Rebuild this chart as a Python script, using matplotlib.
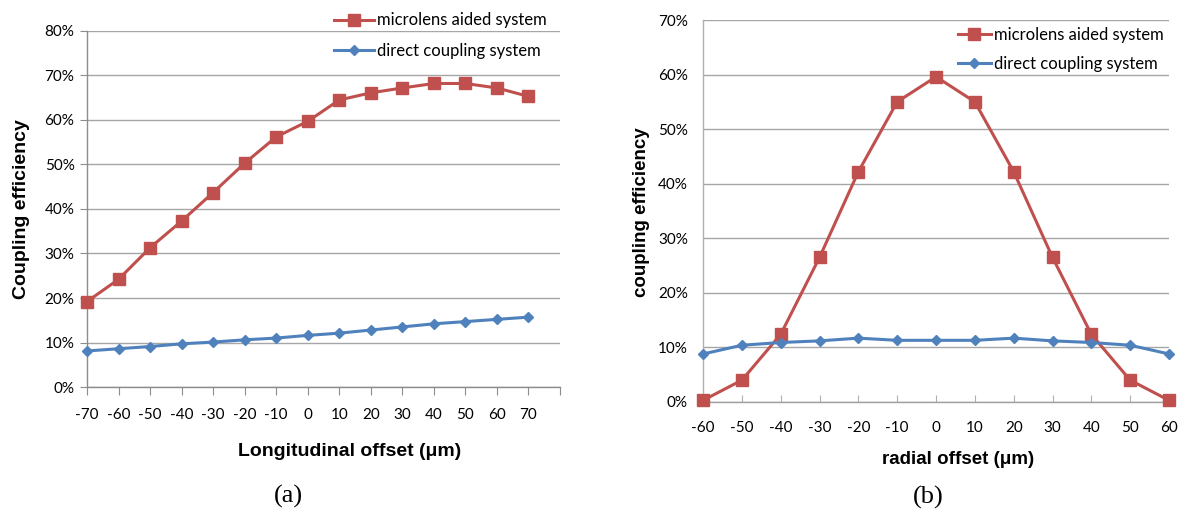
import matplotlib
matplotlib.use("Agg")
import matplotlib.pyplot as plt
from matplotlib.ticker import FuncFormatter

# longitudinal scan (a)
long_offset = [-70, -60, -50, -40, -30, -20, -10, 0, 10, 20, 30, 40, 50, 60, 70]
long_microlens = [19.2, 24.2, 31.3, 37.3, 43.7, 50.3, 56.2, 59.7, 64.5, 66.1, 67.2, 68.2, 68.2, 67.2, 65.3]
long_direct = [8.1, 8.6, 9.1, 9.7, 10.1, 10.6, 11.0, 11.6, 12.1, 12.8, 13.5, 14.2, 14.7, 15.2, 15.7]

# radial scan (b)
rad_offset = [-60, -50, -40, -30, -20, -10, 0, 10, 20, 30, 40, 50, 60]
rad_microlens = [0.3, 4.0, 12.4, 26.5, 42.2, 55.0, 59.6, 55.0, 42.2, 26.5, 12.4, 4.0, 0.3]
rad_direct = [8.8, 10.4, 10.9, 11.2, 11.7, 11.3, 11.3, 11.3, 11.7, 11.2, 10.9, 10.4, 8.8]

RED = "#C0504D"
BLUE = "#4F81BD"
GRID = "#A6A6A6"
TICK_FONT = ["Lato", "DejaVu Sans"]

plt.rcParams["axes.unicode_minus"] = False

pct = FuncFormatter(lambda v, pos: f"{v:.0f}%")

fig = plt.figure(figsize=(11.82, 5.13), dpi=100)
ax1 = fig.add_axes([0.0736, 0.2456, 0.4002, 0.694])
ax2 = fig.add_axes([0.5948, 0.2164, 0.3942, 0.7446])


def style_axes(ax, ymax):
    ax.set_ylim(0, ymax)
    ax.set_yticks(range(0, ymax + 1, 10))
    ax.yaxis.set_major_formatter(pct)
    ax.grid(axis="y", color=GRID, linewidth=1.0)
    ax.set_axisbelow(True)
    for side in ("top", "right"):
        ax.spines[side].set_visible(False)
    for side in ("left", "bottom"):
        ax.spines[side].set_color("#8C8C8C")
        ax.spines[side].set_linewidth(1.0)
    for lab in ax.get_xticklabels() + ax.get_yticklabels():
        lab.set_family(TICK_FONT)
        lab.set_fontsize(11)


def draw_series(ax, x, red, blue):
    ax.plot(x, red, color=RED, linewidth=2.2, marker="s", markersize=8.5,
            label="microlens aided system", clip_on=False, zorder=3)
    ax.plot(x, blue, color=BLUE, linewidth=2.2, marker="D", markersize=5,
            label="direct coupling system", clip_on=False, zorder=3)


# (a) longitudinal offset
draw_series(ax1, long_offset, long_microlens, long_direct)
ax1.set_xlim(-70, 80)
ax1.set_xticks(list(range(-70, 81, 10)))
ax1.set_xticklabels([str(v) for v in long_offset] + [""])
ax1.tick_params(axis="x", direction="out", length=6, color="#8C8C8C", pad=9)
ax1.tick_params(axis="y", direction="out", length=5, color="#8C8C8C", pad=4)
style_axes(ax1, 80)
ax1.legend(loc="upper right", bbox_to_anchor=(0.470, 0.992), bbox_transform=fig.transFigure,
           frameon=False, handlelength=2.4, handletextpad=0.2, labelspacing=0.85,
           borderpad=0, prop={"family": TICK_FONT, "size": 12})

# (b) radial offset
draw_series(ax2, rad_offset, rad_microlens, rad_direct)
ax2.set_xlim(-60, 60)
ax2.set_xticks(rad_offset)
ax2.tick_params(axis="x", direction="in", length=5, color="#B0B0B0", pad=14)
ax2.tick_params(axis="y", length=0, pad=11)
style_axes(ax2, 70)
ax2.spines["left"].set_color("#B0B0B0")
ax2.spines["bottom"].set_color("#A0A0A0")
ax2.legend(loc="upper right", bbox_to_anchor=(0.992, 0.963), bbox_transform=fig.transFigure,
           frameon=False, handlelength=2.0, handletextpad=0.2, labelspacing=0.75,
           borderpad=0, prop={"family": TICK_FONT, "size": 12})

# axis titles and panel captions
fig.text(22 / 1182, 1 - 209 / 513, "Coupling efficiency", rotation=90, ha="center", va="center",
         family="Liberation Sans", fontweight="bold", fontsize=14)
fig.text(641 / 1182, 1 - 212 / 513, "coupling efficiency", rotation=90, ha="center", va="center",
         family="Liberation Sans", fontweight="bold", fontsize=13.5)
fig.text(350 / 1182, 1 - 452 / 513, "Longitudinal offset (μm)", ha="center", va="center",
         family="Liberation Sans", fontweight="bold", fontsize=14)
fig.text(958 / 1182, 1 - 460 / 513, "radial offset (μm)", ha="center", va="center",
         family="Liberation Sans", fontweight="bold", fontsize=13.5)
fig.text(288 / 1182, 1 - 496 / 513, "(a)", ha="center", va="center",
         family="Liberation Serif", fontsize=19)
fig.text(928 / 1182, 1 - 497 / 513, "(b)", ha="center", va="center",
         family="Liberation Serif", fontsize=19)

fig.savefig("out.png", dpi=100)
